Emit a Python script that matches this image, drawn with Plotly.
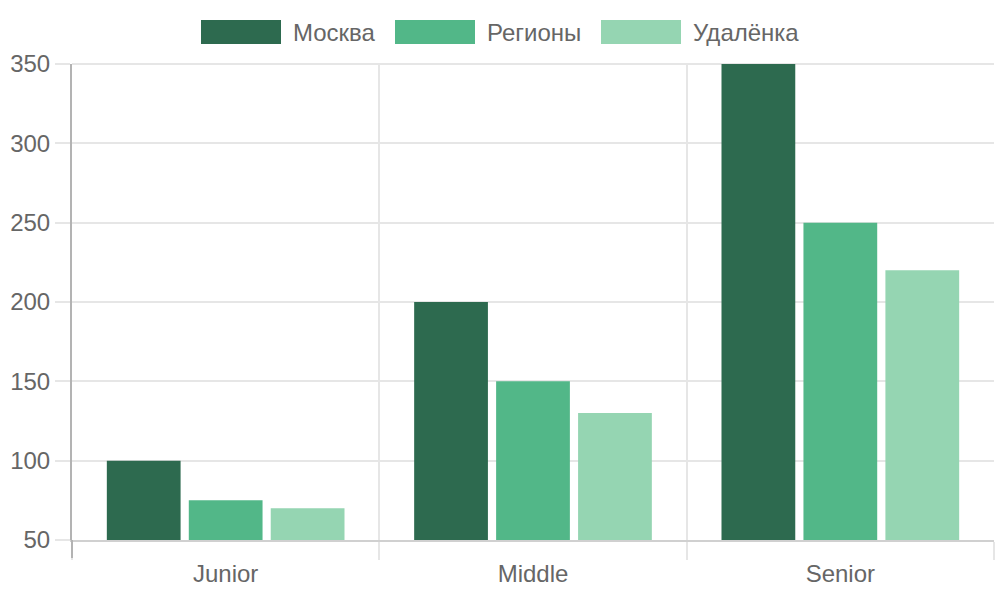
import plotly.graph_objects as go

categories = ["Junior", "Middle", "Senior"]
series_names = ["Москва", "Регионы", "Удалёнка"]
moscow = [100, 200, 350]
regions = [75, 150, 250]
remote = [70, 130, 220]
colors = ["#2d6a4f", "#52b788", "#95d5b2"]
y_ticks = [50, 100, 150, 200, 250, 300, 350]

values = [moscow, regions, remote]
FONT = "Liberation Sans, Arial, sans-serif"
TXT = "#666666"
GRID = "#e6e6e6"
FS = 24

W, H = 1000, 600
L, R, T, B = 72, 6, 64, 60
pw, ph = W - L - R, H - T - B

def px(x):
    return (x - L) / pw

def py(y):
    return (H - B - y) / ph

fig = go.Figure()
xs = list(range(len(categories)))
for name, vals, col in zip(series_names, values, colors):
    fig.add_trace(go.Bar(x=xs, y=vals, name=name, marker=dict(color=col, line=dict(width=0))))

# custom legend (Chart.js style)
legend_boxes = [(201, 293), (395, 487), (601, 693)]
shapes = []
annotations = []
for (bx, tx), name, col in zip(legend_boxes, series_names, colors):
    shapes.append(dict(type="rect", xref="paper", yref="paper",
                       x0=px(bx), x1=px(bx + 80), y0=py(44), y1=py(20),
                       fillcolor=col, line=dict(width=0), layer="above"))
    annotations.append(dict(xref="paper", yref="paper", x=px(tx - 2), y=py(32),
                            text=name, showarrow=False, xanchor="left", yanchor="middle",
                            font=dict(family=FONT, size=FS, color=TXT)))

# extension of the y axis line below the x axis
shapes.append(dict(type="line", xref="paper", yref="paper", x0=0, x1=0,
                   y0=py(558), y1=0, line=dict(color="#b3b3b3", width=2)))
# top grid line
shapes.append(dict(type="line", xref="paper", yref="paper", x0=0, x1=1,
                   y0=1, y1=1, line=dict(color=GRID, width=2), layer="below"))

fig.update_layout(
    width=W, height=H,
    margin=dict(l=L, r=R, t=T, b=B, pad=0),
    paper_bgcolor="white", plot_bgcolor="white",
    barmode="group", bargap=0.2, bargroupgap=0.1,
    showlegend=False,
    shapes=shapes, annotations=annotations,
    font=dict(family=FONT, size=FS, color=TXT),
    xaxis=dict(
        range=[-0.5, len(categories) - 0.5],
        tickvals=xs, ticktext=categories,
        ticks="outside", ticklen=11, tickcolor="rgba(0,0,0,0)",
        showgrid=False, zeroline=False,
        showline=True, linecolor="#d0d0d0", linewidth=2,
        minor=dict(tick0=0.5, dtick=1, ticks="outside", ticklen=18, tickwidth=2,
                   tickcolor=GRID, showgrid=True, gridcolor=GRID, gridwidth=2),
        tickfont=dict(family=FONT, size=FS, color=TXT),
    ),
    yaxis=dict(
        range=[50, 350], tickvals=y_ticks,
        ticks="outside", ticklen=15, tickwidth=2, tickcolor=GRID,
        showgrid=True, gridcolor=GRID, gridwidth=2,
        zeroline=False,
        showline=True, linecolor="#b3b3b3", linewidth=2,
        tickfont=dict(family=FONT, size=FS, color=TXT),
    ),
)

fig.write_html("out.html")
